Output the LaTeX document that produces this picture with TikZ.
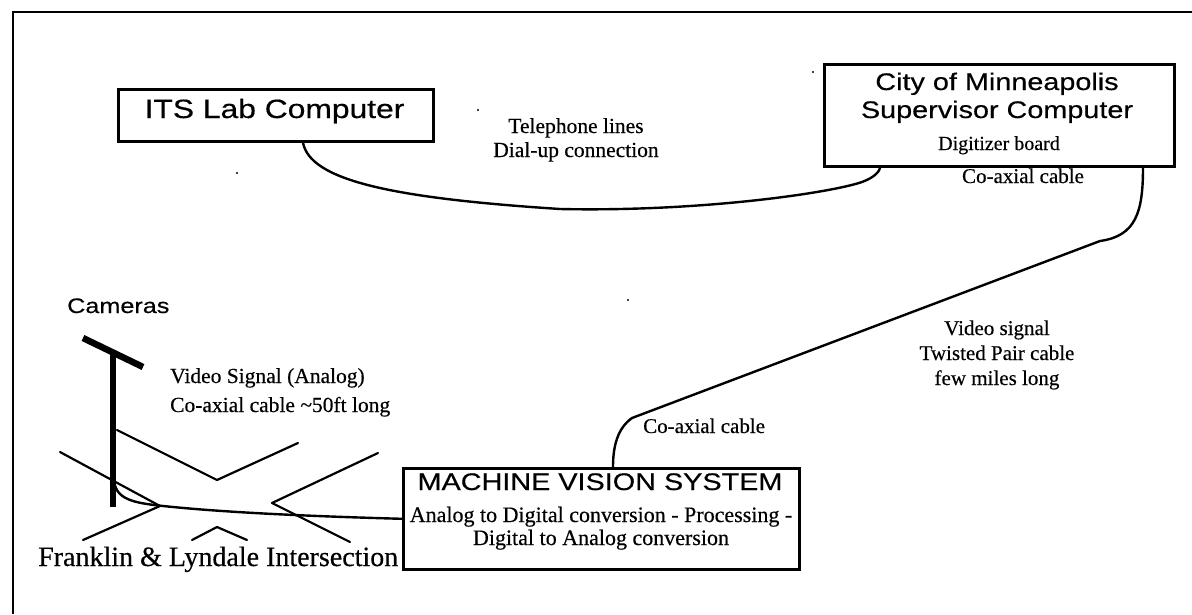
\documentclass[tikz,border=0pt]{standalone}
\usepackage{fontspec}
\setmainfont{Liberation Serif}[FakeBold=0.4]
\newfontfamily\sansw{Liberation Sans}[FakeStretch=1.2,FakeBold=0.4]
\usetikzlibrary{calc}
\tikzset{
  box/.style={draw, line width=2.6pt, inner sep=0pt, anchor=north west},
  sanslbl/.style={inner sep=0pt, anchor=base, font=\sansw\fontsize{24}{28}\selectfont},
  lbl/.style={inner sep=0pt, anchor=base, font=\fontsize{21}{25}\selectfont},
  cable/.style={line width=2.4pt, line cap=round},
  road/.style={line width=2.2pt, line cap=round, line join=round},
  speck/.style={fill, circle, inner sep=0pt, minimum size=2.2pt},
}
\begin{document}
\begin{tikzpicture}[x=1pt,y=-1pt]
\useasboundingbox (0,0) rectangle (1192,614);
% outer frame (cut at right and bottom)
\draw[line width=2.6pt] (1192,12) -- (13,12) -- (13,614);

% boxes
\node[box, minimum width=315pt, minimum height=52pt] (its) at (117,88) {};
\node[box, minimum width=350pt, minimum height=102pt] (city) at (823,63) {};

% box texts
\node[sanslbl, font=\sansw\fontsize{26.5}{30}\selectfont] (itst) at (274.5,118) {ITS Lab Computer};
\node[sanslbl] (city1) at (997,90) {City of Minneapolis};
\node[sanslbl] (city2) at (997,118) {Supervisor Computer};
\node[lbl, font=\fontsize{20}{24}\selectfont] (city3) at (999,150) {Digitizer board};

% telephone label
\node[lbl, font=\fontsize{21.5}{25}\selectfont] (tel1) at (576,133) {Telephone lines};
\node[lbl, font=\fontsize{21.5}{25}\selectfont] (tel2) at (576,157) {Dial-up connection};

% coax labels
\node[lbl] (cx1) at (1023,183) {Co-axial cable};
\node[lbl, anchor=base west] (cx2) at (643,433) {Co-axial cable};

% twisted pair label
\node[lbl] (tp1) at (997,335) {Video signal};
\node[lbl] (tp2) at (997,360) {Twisted Pair cable};
\node[lbl] (tp3) at (997,385) {few miles long};

% cameras
\node[sanslbl, anchor=base west, font=\sansw\fontsize{21}{25}\selectfont] (cam) at (67,313) {Cameras};
\node[lbl, anchor=base west, font=\fontsize{21.5}{26}\selectfont] (vs1) at (170,383) {Video Signal (Analog)};
\node[lbl, anchor=base west, font=\fontsize{21.5}{26}\selectfont] (vs2) at (170,412) {Co-axial cable \textasciitilde50ft long};
\node[lbl, anchor=base west, font=\fontsize{28}{32}\selectfont] (fl) at (38,566) {Franklin \& Lyndale Intersection};

% machine vision box and text
\node[sanslbl] (mvs1) at (600,490) {MACHINE VISION SYSTEM};
\node[lbl, font=\fontsize{22}{26}\selectfont] (mvs2) at (601,522) {Analog to Digital conversion - Processing -};
\node[lbl, font=\fontsize{22}{26}\selectfont] (mvs3) at (601,545) {Digital to Analog conversion};
\node[box, minimum width=396pt, minimum height=101pt] (mvs) at (402,467) {};

% intersection drawing
\draw[road] (117,430) -- (217,480) -- (298,443);
\draw[road] (60,452) -- (160,506) -- (83,540);
\draw[road] (378,453) -- (272,503) -- (350,542);
\draw[road] (192,540) -- (217,527) -- (247,540);
% camera mast
\draw[line width=5.5pt] (113,353) -- (113,507);
\draw[line width=6.5pt] (83,338) -- (143,367);

% cables
\coordinate (camfoot) at (114,478);
\draw[cable] (camfoot) .. controls (114,500) and (135,503) .. (163,506)
  .. controls (220,512) and (300,516) .. (mvs.west);
\draw[cable] ($(its.south west)+(186,0)$) .. controls (310,180) and (390,198) .. (560,209)
  .. controls (700,212) and (830,193) .. (862,182)
  .. controls (876,177) and (880,170) .. ($(city.south west)+(57,0)$);
\draw[cable] ($(city.south west)+(320,0)$) .. controls (1143,212) and (1136,236) .. (1100,241)
  -- (632,418) .. controls (618,428) and (613,445) .. ($(mvs.north west)+(211,0)$);

% scan specks
\node[speck] (d1) at (478,110) {};
\node[speck] (d2) at (813,72) {};
\node[speck] (d3) at (237,173) {};
\node[speck] (d4) at (628,300) {};
\end{tikzpicture}
\end{document}
